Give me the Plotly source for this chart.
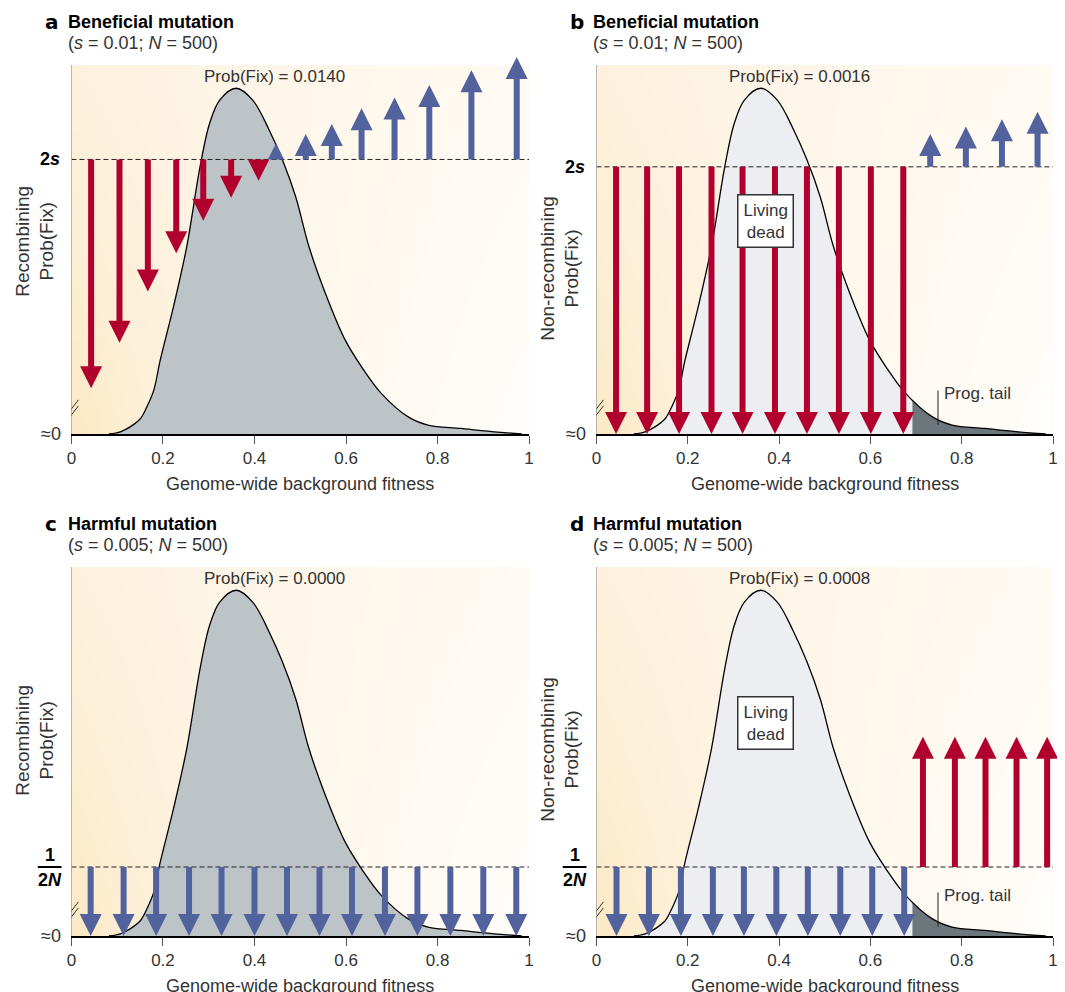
import numpy as np
import plotly.graph_objects as go

# page has an 8px body margin; the figure is sized/offset so it fills the 1065x992 window
OX, OY = 8, 8
W, H = 1065 - OX, 992 - OY

# ---------------- data ----------------
fitness_ticks = [0, 0.2, 0.4, 0.6, 0.8, 1]
fitness_tick_labels = ['0', '0.2', '0.4', '0.6', '0.8', '1']

# background-fitness distribution (relative height, 1 = top of panel)
curve_x = [0.082, 0.107, 0.129, 0.151, 0.165, 0.180, 0.194, 0.223, 0.252, 0.281, 0.302,
           0.324, 0.360, 0.396, 0.432, 0.461, 0.490, 0.519, 0.555, 0.598, 0.634, 0.677,
           0.735, 0.779, 0.851, 0.923, 0.984]
curve_y = [0.000, 0.006, 0.020, 0.042, 0.074, 0.119, 0.200, 0.345, 0.508, 0.724, 0.842,
           0.905, 0.937, 0.905, 0.824, 0.743, 0.643, 0.508, 0.381, 0.255, 0.182, 0.110,
           0.047, 0.024, 0.015, 0.006, 0.000]
tail_start = 0.692

# panel a (recombining, beneficial)
a_level = 0.744
a_down_x = [0.043, 0.105, 0.167, 0.229, 0.288, 0.349, 0.409]
a_down_tip = [0.124, 0.247, 0.386, 0.490, 0.578, 0.640, 0.686]
a_up_x = [0.447, 0.512, 0.569, 0.634, 0.706, 0.782, 0.874, 0.973]
a_up_tip = [0.788, 0.813, 0.840, 0.883, 0.912, 0.946, 0.986, 1.022]

# panel b (non-recombining, beneficial)
b_level = 0.724
b_down_x = [0.043, 0.111, 0.181, 0.252, 0.320, 0.391, 0.461, 0.531, 0.601, 0.672]
b_down_tip = [0.0] * 10
b_up_x = [0.731, 0.809, 0.888, 0.966]
b_up_tip = [0.813, 0.833, 0.853, 0.873]

# panel c (recombining, harmful)
c_level = 0.187
c_down_x = [0.042, 0.114, 0.185, 0.257, 0.328, 0.400, 0.471, 0.542, 0.613, 0.685,
            0.756, 0.828, 0.900, 0.972]
c_down_tip = [0.0] * 14

# panel d (non-recombining, harmful)
d_level = 0.187
d_down_x = [0.044, 0.115, 0.185, 0.255, 0.323, 0.394, 0.463, 0.534, 0.604, 0.674]
d_down_tip = [0.0] * 10
d_up_x = [0.715, 0.785, 0.852, 0.920, 0.987]
d_up_tip = [0.54] * 5

panel_letters = ['a', 'b', 'c', 'd']
panel_titles = ['Beneficial mutation', 'Beneficial mutation', 'Harmful mutation', 'Harmful mutation']
panel_params = ['(<i>s</i> = 0.01; <i>N</i> = 500)', '(<i>s</i> = 0.01; <i>N</i> = 500)',
                '(<i>s</i> = 0.005; <i>N</i> = 500)', '(<i>s</i> = 0.005; <i>N</i> = 500)']
prob_fix = ['0.0140', '0.0016', '0.0000', '0.0008']
y_titles = ['Recombining<br>Prob(Fix)', 'Non-recombining<br>Prob(Fix)',
            'Recombining<br>Prob(Fix)', 'Non-recombining<br>Prob(Fix)']

# ---------------- styling ----------------
RED = '#b1002e'
BLUE = '#51629c'
GRAY_FILL = '#bcc4c8'
LIGHT_FILL = '#eceef1'
TAIL_FILL = '#6c777c'
TXT = '#333333'
FONT = 'Liberation Sans, Arial, sans-serif'
FS = 17
YTOP = 1.04  # axis range headroom so the tallest arrow head is not hidden

# panel geometry in window pixels: (left, right, top, bottom)
geom = [
    (67, 529, 65, 434),
    (597, 1058, 65, 434),
    (67, 529, 567, 936),
    (597, 1058, 567, 936),
]

fig = go.Figure()
layout = dict(width=W, height=H, margin=dict(l=0, r=0, t=0, b=0, pad=0),
              paper_bgcolor='white', plot_bgcolor='white', showlegend=False,
              font=dict(family=FONT, size=FS, color=TXT))
annotations = []
shapes = []


def px_x(p):
    return (p - OX) / W


def px_y(p):
    return 1 - (p - OY) / H


# background gradient grid (style only): bin edges and cell centres
bg_xe = np.linspace(0, 1, 41)
bg_ye = np.linspace(0, 1, 21)
bxc = (bg_xe[:-1] + bg_xe[1:]) / 2
byc = (bg_ye[:-1] + bg_ye[1:]) / 2
BX, BY = np.meshgrid(bxc, byc)
BZ = BX * (1 - 0.3 * BY) + 0.25 * BY * (1 - BX)
bg_scale = [[0, '#fce8c3'], [0.15, '#fdefd6'], [0.4, '#fef5e7'], [0.7, '#fffaf2'], [1, '#fffdfb']]

cx = np.array(curve_x)
cy = np.array(curve_y)


def add_arrows(xa, ya, xs, start, tips, color, hpx):
    head_px = 22.0
    unit = 1.0 / hpx
    sx, sy, hx, hy, hs, sym = [], [], [], [], [], []
    for x, t in zip(xs, tips):
        length_px = abs(t - start) / unit
        size = min(head_px, length_px)
        direction = 1 if t > start else -1
        if length_px > head_px:
            end = t - direction * 0.6 * head_px * unit
            sx += [x, x, None]
            sy += [start, end, None]
        hx.append(x)
        hy.append(t)
        hs.append(size)
        sym.append('arrow-up' if direction > 0 else 'arrow-down')
    if sx:
        fig.add_trace(go.Scatter(x=sx, y=sy, mode='lines', xaxis=xa, yaxis=ya,
                                 line=dict(color=color, width=6), hoverinfo='skip'))
    fig.add_trace(go.Scatter(x=hx, y=hy, mode='markers', xaxis=xa, yaxis=ya, cliponaxis=False,
                             marker=dict(symbol=sym, size=hs, color=color, opacity=1,
                                         line=dict(width=0)),
                             hoverinfo='skip'))


levels = [a_level, b_level, c_level, d_level]
arrow_sets = [
    [(a_down_x, a_down_tip, RED), (a_up_x, a_up_tip, BLUE)],
    [(b_down_x, b_down_tip, RED), (b_up_x, b_up_tip, BLUE)],
    [(c_down_x, c_down_tip, BLUE)],
    [(d_down_x, d_down_tip, BLUE), (d_up_x, d_up_tip, RED)],
]

for i in range(4):
    L, R, T, B = geom[i]
    sfx = '' if i == 0 else str(i + 1)
    xa, ya = 'x' + sfx, 'y' + sfx
    hpx = B - T
    recombining = i in (0, 2)

    layout['xaxis' + sfx] = dict(domain=[px_x(L), px_x(R)], range=[0, 1], anchor=ya,
                                 showgrid=False, zeroline=False, showline=True, linecolor='black',
                                 linewidth=2, ticks='outside', ticklen=8, tickcolor='#555',
                                 tickwidth=1, tickvals=fitness_ticks, ticktext=fitness_tick_labels,
                                 tickfont=dict(size=FS, color=TXT), fixedrange=True)
    layout['yaxis' + sfx] = dict(domain=[px_y(B), px_y(T - (YTOP - 1) * hpx)], range=[0, YTOP],
                                 anchor=xa, showgrid=False, zeroline=False, showline=False,
                                 showticklabels=False, ticks='', fixedrange=True)

    # background
    fig.add_trace(go.Heatmap(x=bg_xe, y=bg_ye, z=BZ, colorscale=bg_scale, zmin=0, zmax=1,
                             showscale=False, zsmooth='best', hoverinfo='skip', xaxis=xa, yaxis=ya))

    # distribution fill
    if recombining:
        fig.add_trace(go.Scatter(x=cx, y=cy, mode='lines', fill='tozeroy', fillcolor=GRAY_FILL,
                                 line=dict(width=0, shape='spline'), xaxis=xa, yaxis=ya,
                                 hoverinfo='skip'))
    else:
        y_cut = float(np.interp(tail_start, cx, cy))
        m = cx < tail_start
        fig.add_trace(go.Scatter(x=list(cx[m]) + [tail_start], y=list(cy[m]) + [y_cut],
                                 mode='lines', fill='tozeroy', fillcolor=LIGHT_FILL,
                                 line=dict(width=0, shape='spline'), xaxis=xa, yaxis=ya,
                                 hoverinfo='skip'))
        fig.add_trace(go.Scatter(x=[tail_start] + list(cx[~m]), y=[y_cut] + list(cy[~m]),
                                 mode='lines', fill='tozeroy', fillcolor=TAIL_FILL,
                                 line=dict(width=0, shape='spline'), xaxis=xa, yaxis=ya,
                                 hoverinfo='skip'))
    # outline
    fig.add_trace(go.Scatter(x=cx, y=cy, mode='lines', line=dict(color='black', width=1.3,
                                                                  shape='spline'),
                             xaxis=xa, yaxis=ya, hoverinfo='skip'))
    # dashed reference level
    fig.add_trace(go.Scatter(x=[0, 1], y=[levels[i], levels[i]], mode='lines',
                             line=dict(color='#222', width=1, dash='5px,3px'),
                             xaxis=xa, yaxis=ya, hoverinfo='skip'))

    # arrows
    for xs, tips, col in arrow_sets[i]:
        add_arrows(xa, ya, xs, levels[i], tips, col, hpx)

    # left axis line (only up to the top of the panel background)
    shapes.append(dict(type='line', xref=xa, yref=ya, x0=0, x1=0, y0=0, y1=1,
                       line=dict(color='#777', width=1)))

    # prog. tail marker + living dead box
    if not recombining:
        fig.add_trace(go.Scatter(x=[0.748, 0.748], y=[0.025, 0.118], mode='lines',
                                 line=dict(color='#222', width=1), xaxis=xa, yaxis=ya,
                                 hoverinfo='skip'))
        annotations.append(dict(x=0.756, y=0.11, xref=xa, yref=ya, text='Prog. tail',
                                showarrow=False, xanchor='left', yanchor='middle',
                                font=dict(size=FS, color=TXT)))
        annotations.append(dict(x=0.37, y=0.576, xref=xa, yref=ya, text='Living<br>dead',
                                showarrow=False, xanchor='center', yanchor='middle',
                                bgcolor='white', bordercolor='#333', borderwidth=1.5,
                                borderpad=5, font=dict(size=FS, color=TXT)))

    # Prob(Fix)
    annotations.append(dict(x=0.444, y=0.968, xref=xa, yref=ya, text='Prob(Fix) = ' + prob_fix[i],
                            showarrow=False, xanchor='center', yanchor='middle',
                            font=dict(size=FS, color=TXT)))

    # titles
    annotations.append(dict(x=px_x(L - 29), y=px_y(T - 43), xref='paper', yref='paper',
                            text='<b>' + panel_letters[i] + '</b>', showarrow=False,
                            xanchor='left', yanchor='middle',
                            font=dict(size=20, color='black', family='DejaVu Sans, Arial')))
    annotations.append(dict(x=px_x(L - 5), y=px_y(T - 43), xref='paper', yref='paper',
                            text='<b>' + panel_titles[i] + '</b>', showarrow=False,
                            xanchor='left', yanchor='middle', font=dict(size=18, color='black')))
    annotations.append(dict(x=px_x(L - 5), y=px_y(T - 22), xref='paper', yref='paper',
                            text=panel_params[i], showarrow=False,
                            xanchor='left', yanchor='middle', font=dict(size=18, color=TXT)))

    # axis titles
    annotations.append(dict(x=px_x((L + R) / 2), y=px_y(B + 50), xref='paper', yref='paper',
                            text='Genome-wide background fitness', showarrow=False,
                            xanchor='center', yanchor='middle', font=dict(size=18, color=TXT)))
    ycen = [241, 268, 740, 749][i]
    annotations.append(dict(x=px_x(L - 37), y=px_y(ycen), xref='paper', yref='paper',
                            text=y_titles[i], showarrow=False, textangle=-90,
                            xanchor='center', yanchor='middle', font=dict(size=19, color=TXT)))

    # y labels
    annotations.append(dict(x=px_x(L - 9), y=px_y(B), xref='paper', yref='paper',
                            text='\u22480', showarrow=False, xanchor='right', yanchor='middle',
                            font=dict(size=18, color=TXT)))
    lvl_py = B - levels[i] * hpx
    if i < 2:
        annotations.append(dict(x=px_x(L - 10), y=px_y(lvl_py), xref='paper', yref='paper',
                                text='<b>2<i>s</i></b>', showarrow=False, xanchor='right',
                                yanchor='middle', font=dict(size=18, color='black')))
    else:
        fc = L - 22
        annotations.append(dict(x=px_x(fc), y=px_y(lvl_py - 12), xref='paper', yref='paper',
                                text='<b>1</b>', showarrow=False, xanchor='center',
                                yanchor='middle', font=dict(size=18, color='black')))
        annotations.append(dict(x=px_x(fc), y=px_y(lvl_py + 13), xref='paper', yref='paper',
                                text='<b>2<i>N</i></b>', showarrow=False, xanchor='center',
                                yanchor='middle', font=dict(size=18, color='black')))
        shapes.append(dict(type='line', xref='paper', yref='paper', x0=px_x(fc - 12),
                           x1=px_x(fc + 12), y0=px_y(lvl_py), y1=px_y(lvl_py),
                           line=dict(color='black', width=2)))

    # axis break marks
    for off in (-3, 3):
        shapes.append(dict(type='line', xref=xa, yref=ya, xsizemode='pixel', ysizemode='pixel',
                           xanchor=0, yanchor=0.06, x0=-7, x1=7, y0=-9 + off, y1=9 + off,
                           line=dict(color='#333', width=1)))

layout['annotations'] = annotations
layout['shapes'] = shapes
fig.update_layout(**layout)
fig.write_html('out.html')
